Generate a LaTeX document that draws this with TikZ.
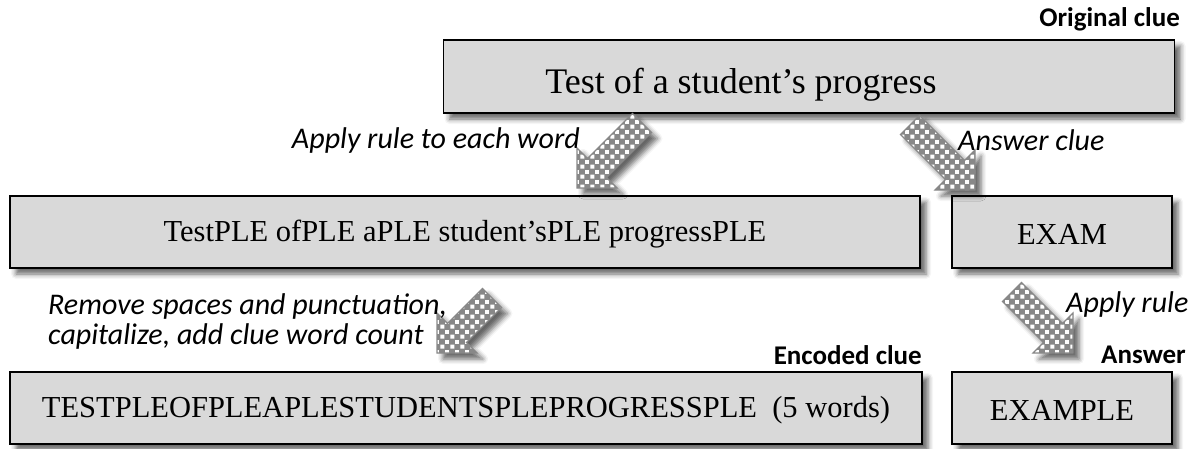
\documentclass[tikz,border=0pt]{standalone}
\usepackage{fontspec}
\setmainfont{Liberation Serif}
\newfontfamily\labelfont{Carlito}
\usetikzlibrary{shadows.blur,patterns}
\pgfdeclarepatternformonly{bigcheck}{\pgfqpoint{0pt}{0pt}}{\pgfqpoint{10pt}{10pt}}{\pgfqpoint{10pt}{10pt}}{%
  \pgfpathrectangle{\pgfqpoint{0.5pt}{0.5pt}}{\pgfqpoint{4.2pt}{4.2pt}}%
  \pgfpathrectangle{\pgfqpoint{5.5pt}{5.5pt}}{\pgfqpoint{4.2pt}{4.2pt}}%
  \pgfusepath{fill}}
\definecolor{boxfill}{HTML}{D9D9D9}
\definecolor{arrowgray}{HTML}{888888}
\tikzset{
  box/.style={draw=black, line width=1.5pt, fill=boxfill,
    blur shadow={shadow xshift=6pt, shadow yshift=-6pt, shadow blur radius=5pt, shadow opacity=60},
    inner sep=0pt},
  boxtext/.style={font=\fontsize{30.5}{34}\selectfont, inner sep=0pt},
  lbl/.style={font=\labelfont\fontsize{27}{29}\selectfont, inner sep=0pt},
  lblit/.style={lbl, font=\labelfont\itshape\fontsize{30}{30}\selectfont},
  lblbf/.style={lbl, font=\labelfont\bfseries\fontsize{27}{29}\selectfont},
  arrowbody/.style={fill=arrowgray,
    blur shadow={shadow xshift=6pt, shadow yshift=-6pt, shadow blur radius=5pt, shadow opacity=60}},
  arrowpat/.style={pattern=bigcheck, pattern color=white},
  arrowedge/.style={draw=arrowgray, line width=1.2pt, line join=miter}
}
% #1 tip x, #2 tip y, #3 sx, #4 sy (direction signs), #5 tail offset, #6 name
\newcommand\blockarrow[6]{%
  \pgfmathsetmacro\pAx{#1}\pgfmathsetmacro\pAy{#2}%
  \pgfmathsetmacro\pBx{#1-20*(#3)-20*(#4)}\pgfmathsetmacro\pBy{#2-20*(#4)+20*(#3)}%
  \pgfmathsetmacro\pCx{#1-20*(#3)-9.5*(#4)}\pgfmathsetmacro\pCy{#2-20*(#4)+9.5*(#3)}%
  \pgfmathsetmacro\pDx{#1-(#5)*(#3)-9.5*(#4)}\pgfmathsetmacro\pDy{#2-(#5)*(#4)+9.5*(#3)}%
  \pgfmathsetmacro\pEx{#1-(#5)*(#3)+9.5*(#4)}\pgfmathsetmacro\pEy{#2-(#5)*(#4)-9.5*(#3)}%
  \pgfmathsetmacro\pFx{#1-20*(#3)+9.5*(#4)}\pgfmathsetmacro\pFy{#2-20*(#4)-9.5*(#3)}%
  \pgfmathsetmacro\pGx{#1-20*(#3)+20*(#4)}\pgfmathsetmacro\pGy{#2-20*(#4)-20*(#3)}%
  \coordinate (#6) at (\pAx,\pAy);
  \path[arrowbody] (#6) -- (\pBx,\pBy) -- (\pCx,\pCy) -- (\pDx,\pDy) -- (\pEx,\pEy) -- (\pFx,\pFy) -- (\pGx,\pGy) -- cycle;
  \path[arrowpat] (#6) -- (\pBx,\pBy) -- (\pCx,\pCy) -- (\pDx,\pDy) -- (\pEx,\pEy) -- (\pFx,\pFy) -- (\pGx,\pGy) -- cycle;
  \path[arrowedge] (#6) -- (\pBx,\pBy) -- (\pCx,\pCy) -- (\pDx,\pDy) -- (\pEx,\pEy) -- (\pFx,\pFy) -- (\pGx,\pGy) -- cycle;
}
\begin{document}
\begin{tikzpicture}[x=1pt,y=-1pt]
\useasboundingbox (0,0) rectangle (1194,448);
% boxes
\node[box, minimum width=731pt, minimum height=73pt] (orig) at (809,76.5) {};
\node[boxtext, font=\fontsize{36}{40}\selectfont] (origtxt) at (741,85) {Test of a student’s progress};
\node[box, minimum width=910pt, minimum height=72pt] (rule) at (465,232) {};
\node[boxtext] (ruletxt) at (465,234) {TestPLE ofPLE aPLE student’sPLE progressPLE};
\node[box, minimum width=220pt, minimum height=72pt] (exam) at (1062,232) {};
\node[boxtext] (examtxt) at (1062,234) {EXAM};
\node[box, minimum width=912pt, minimum height=72pt] (enc) at (466,408) {};
\node[boxtext] (enctxt) at (466,410) {TESTPLEOFPLEAPLESTUDENTSPLEPROGRESSPLE\ \ (5 words)};
\node[box, minimum width=220pt, minimum height=72pt] (ans) at (1062,408) {};
\node[boxtext] (anstxt) at (1062,410) {EXAMPLE};
% arrows
\blockarrow{577}{188}{-1}{1}{65}{arA}
\blockarrow{975}{190}{1}{1}{65}{arB}
\blockarrow{437}{353}{-1}{1}{55}{arC}
\blockarrow{1073}{353}{1}{1}{61}{arD}
% labels
\node[lblbf, anchor=east] (lorig) at (1180,19) {Original clue};
\node[lblit, anchor=east] (l1) at (580,140) {Apply rule to each word};
\node[lblit, anchor=west] (l2) at (958,140) {Answer clue};
\node[lblit, anchor=north west, align=left] (l3) at (48,293) {Remove spaces and punctuation,\\capitalize, add clue word count};
\node[lblit, anchor=west] (l4) at (1066,304) {Apply rule};
\node[lblbf, anchor=east] (lenc) at (922,355) {Encoded clue};
\node[lblbf, anchor=east] (lans) at (1186,355) {Answer};
\end{tikzpicture}
\end{document}
